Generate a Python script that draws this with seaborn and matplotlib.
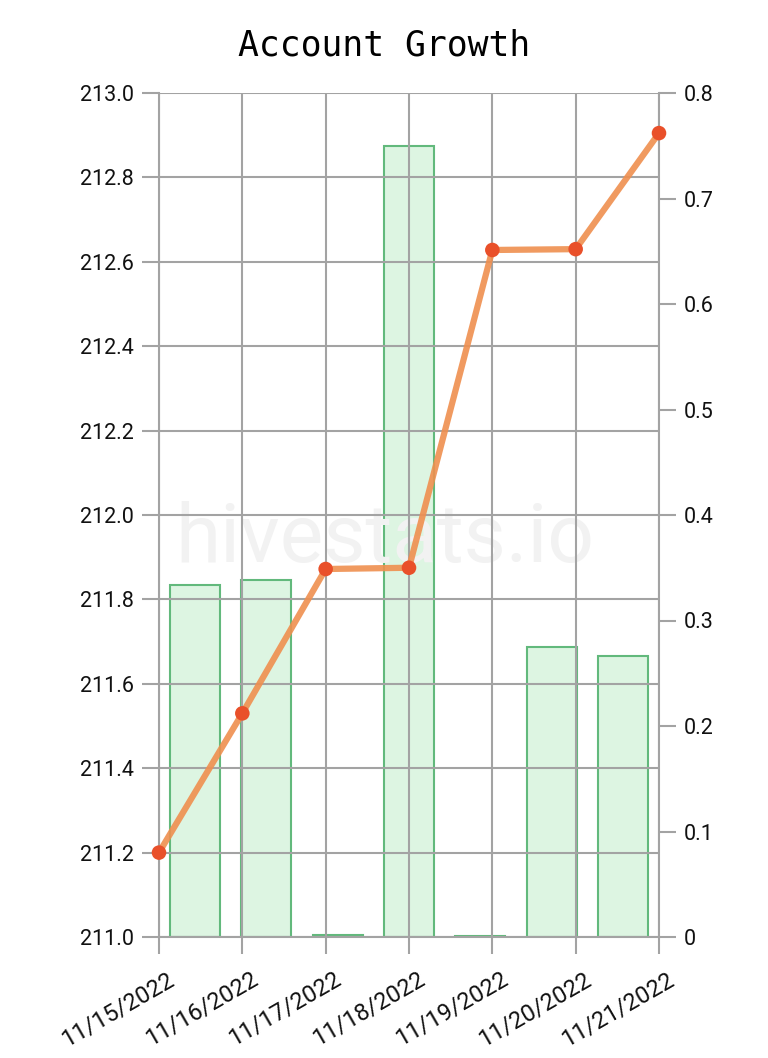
import matplotlib
matplotlib.use("Agg")
import matplotlib.pyplot as plt
import matplotlib.transforms as mtransforms
import seaborn as sns
import numpy as np

dates = ["11/15/2022", "11/16/2022", "11/17/2022", "11/18/2022",
         "11/19/2022", "11/20/2022", "11/21/2022"]
account_value = [211.2, 211.53, 211.872, 211.875, 212.628, 212.63, 212.905]
daily_growth = [0.334, 0.338, 0.002, 0.750, 0.001, 0.275, 0.266]

sns.set_theme(style="white")
plt.rcParams['font.family'] = ['Roboto', 'DejaVu Sans']

fig = plt.figure(figsize=(7.68, 10.58), dpi=100, facecolor="white")
rect = [159/768, 121/1058, 500/768, 844/1058]

grid_c = "#a3a3a3"

# Bar axes (right axis)
ax_b = fig.add_axes(rect)
sns.barplot(x=dates, y=daily_growth, ax=ax_b, width=0.7,
            color="#d9f9e0", edgecolor="#62b97c", linewidth=1.5)
ax_b.set_xlim(-0.5, 6.5)
ax_b.set_ylim(0, 0.8)
ax_b.yaxis.tick_right()
ax_b.set_yticks(np.arange(0, 0.81, 0.1))
ax_b.set_yticklabels(["0"] + [f"{v:.1f}" for v in np.arange(0.1, 0.81, 0.1)])
ax_b.set_xticks([])
ax_b.set_xlabel("")
ax_b.set_ylabel("")
ax_b.tick_params(axis="y", which="both", right=True, length=12, width=1.5,
                 color=grid_c, labelsize=15.5, pad=6, labelcolor="#111111")
for s in ax_b.spines.values():
    s.set_visible(False)
ax_b.spines["right"].set_visible(True)
ax_b.spines["right"].set_color(grid_c)
ax_b.spines["right"].set_linewidth(1.5)
ax_b.patch.set_visible(False)
ax_b.set_zorder(1)

# Line axes (left axis)
ax = fig.add_axes(rect)
ax.patch.set_visible(False)
ax.set_zorder(2)
sns.lineplot(x=dates, y=account_value, ax=ax, color="#ef8f4f", linewidth=4.5,
             alpha=0.9, sort=False, zorder=3, clip_on=False)
ax.scatter(range(len(dates)), account_value, s=110, color="#e9502a", zorder=4,
           edgecolors="none", clip_on=False)
ax.set_xlim(0, 6)
ax.set_ylim(211.0, 213.0)
ax.set_yticks(np.arange(211.0, 213.01, 0.2))
ax.set_yticklabels([f"{v:.1f}" for v in np.arange(211.0, 213.01, 0.2)])
ax.set_xticks(range(len(dates)))
ax.set_xlabel("")
ax.set_ylabel("")
ax.grid(True, color=grid_c, linewidth=1.5, zorder=0)
ax.tick_params(axis="both", which="both", left=True, bottom=True, length=12,
               width=1.5, color=grid_c, labelcolor="#111111")
ax.tick_params(axis="x", pad=10, labelsize=17)
ax.tick_params(axis="y", pad=6, labelsize=15.5)
ax.set_xticklabels(dates, rotation=30, ha="right", va="top", rotation_mode="anchor")
offset = mtransforms.ScaledTranslation(8/100, 0, fig.dpi_scale_trans)
for lab in ax.get_xticklabels():
    lab.set_transform(lab.get_transform() + offset)
for s in ax.spines.values():
    s.set_visible(False)
ax.spines["left"].set_visible(True)
ax.spines["left"].set_color(grid_c)
ax.spines["left"].set_linewidth(1.5)
ax.spines["bottom"].set_visible(True)
ax.spines["bottom"].set_color(grid_c)
ax.spines["bottom"].set_linewidth(1.5)

ax.text(0.452, 0.47, "hivestats.io", transform=ax.transAxes, fontsize=59,
        color="#f2f2f2", ha="center", va="center", zorder=0,
        family=["Roboto", "DejaVu Sans"])

fig.text(0.5, 1 - 45/1058, "Account Growth", ha="center", va="center",
         fontsize=25, family=["DejaVu Sans Mono"], color="black")

fig.savefig("out.png", dpi=100, facecolor="white")
